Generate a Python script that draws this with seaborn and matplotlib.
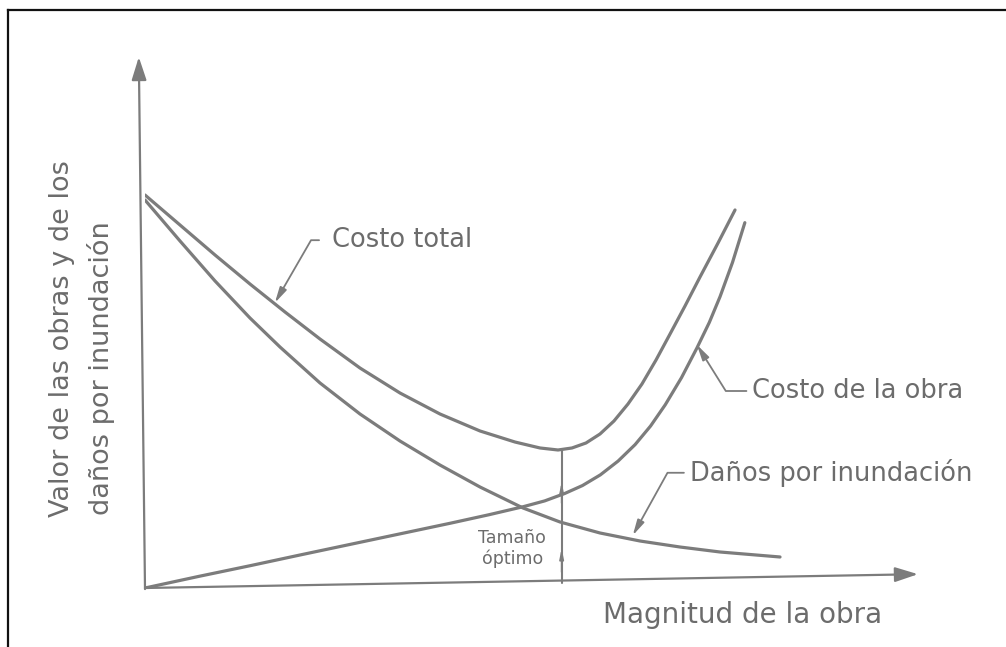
import numpy as np
import pandas as pd
import matplotlib
matplotlib.use("Agg")
import matplotlib.pyplot as plt
import seaborn as sns

# curves (x = magnitud de la obra, y = valor), arbitrary units 0-10
total_x = [0.000, 0.453, 0.906, 1.358, 1.811, 2.264, 2.781, 3.299, 3.816, 4.334, 4.787,
           5.110, 5.343, 5.524, 5.705, 5.886, 6.067, 6.248, 6.429, 6.611, 6.792, 6.986,
           7.180, 7.413, 7.633]
total_y = [7.401, 6.836, 6.271, 5.725, 5.198, 4.689, 4.143, 3.672, 3.277, 2.957, 2.749,
           2.637, 2.599, 2.637, 2.731, 2.900, 3.145, 3.465, 3.842, 4.294, 4.783, 5.311,
           5.857, 6.497, 7.119]

danos_x = [0.000, 0.453, 0.906, 1.358, 1.746, 2.264, 2.781, 3.299, 3.816, 4.334, 4.890,
           5.369, 5.886, 6.404, 6.921, 7.439, 8.215]
danos_y = [7.307, 6.535, 5.782, 5.085, 4.539, 3.861, 3.277, 2.768, 2.316, 1.902, 1.507,
           1.243, 1.036, 0.885, 0.772, 0.678, 0.584]

obra_x = [0.00, 0.70, 1.36, 2.00, 2.65, 3.30, 3.95, 4.45, 4.89, 5.17, 5.43, 5.66, 5.89, 6.12,
          6.34, 6.54, 6.73, 6.94, 7.14, 7.30, 7.44, 7.60, 7.76]
obra_y = [0.00, 0.22, 0.42, 0.62, 0.82, 1.02, 1.22, 1.38, 1.53, 1.64, 1.78, 1.93, 2.13, 2.39,
          2.70, 3.05, 3.45, 3.96, 4.52, 5.00, 5.49, 6.13, 6.88]

# optimum size: below the minimum of total cost
opt_x = 5.39
opt_top = 2.60
opt_bottom = 0.09

gray = "#7c7c7c"
text_gray = "#6c6c6c"

sns.set_style("white")
plt.rcParams["font.family"] = ["DejaVu Sans"]

fig = plt.figure(figsize=(10.06, 6.47), dpi=100)

# frame of the scanned figure (top and left edges only)
frame = fig.add_axes([0.008, -0.02, 1.0, 1.0045])
frame.set_xticks([])
frame.set_yticks([])
for side in ["right", "bottom"]:
    frame.spines[side].set_visible(False)
for side in ["top", "left"]:
    frame.spines[side].set_color("#111111")
    frame.spines[side].set_linewidth(1.6)
frame.patch.set_alpha(0)

ax = fig.add_axes([145 / 1006, (647 - 588) / 647, 773 / 1006, 531 / 647])
ax.patch.set_alpha(0)
ax.set_xlim(0, 10)
ax.set_ylim(0, 10)
ax.set_xticks([])
ax.set_yticks([])
sns.despine(ax=ax, left=True, bottom=True)

curves = pd.concat([
    pd.DataFrame({"x": total_x, "y": total_y, "serie": "Costo total"}),
    pd.DataFrame({"x": danos_x, "y": danos_y, "serie": "Daños por inundación"}),
    pd.DataFrame({"x": obra_x, "y": obra_y, "serie": "Costo de la obra"}),
])
sns.lineplot(data=curves, x="x", y="y", units="serie", estimator=None, sort=False,
             color=gray, lw=2.3, ax=ax, legend=False)

# axes with arrow heads
arrow = dict(arrowstyle="-|>,head_length=1.4,head_width=0.45", color=gray, lw=1.6,
             shrinkA=0, shrinkB=0)
ax.annotate("", xy=(-0.08, 10.0), xytext=(0.0, -0.02), arrowprops=arrow, annotation_clip=False)
ax.annotate("", xy=(10.0, 0.26), xytext=(0.0, 0.0), arrowprops=arrow, annotation_clip=False)

# optimum vertical line
ax.plot([opt_x, opt_x], [opt_top, opt_bottom], color=gray, lw=1.5)
small = dict(arrowstyle="-|>,head_length=0.6,head_width=0.12", color=gray, lw=1.2,
             shrinkA=0, shrinkB=0)
ax.annotate("", xy=(opt_x, 2.0), xytext=(opt_x, 1.6), arrowprops=small)
ax.annotate("", xy=(opt_x, 0.75), xytext=(opt_x, 0.3), arrowprops=small)
ax.text(opt_x - 0.64, 0.95, "Tamaño", ha="center", va="center", fontsize=12.5, color=text_gray)
ax.text(opt_x - 0.64, 0.56, "óptimo", ha="center", va="center", fontsize=12.5, color=text_gray)

# labels with leader lines
def leader(label, target, textpos, angle, gap):
    ax.annotate(label, xy=target, xytext=textpos, ha="left", va="center",
                fontsize=18.5, color=text_gray,
                arrowprops=dict(arrowstyle="-|>,head_length=0.5,head_width=0.12",
                                color=gray, lw=1.3, relpos=(0, 0.5),
                                shrinkA=gap, shrinkB=0,
                                connectionstyle=f"angle,angleA=0,angleB={angle},rad=0"))

leader("Costo total", (1.68, 5.37), (2.42, 6.55), 60, 7)
leader("Costo de la obra", (7.14, 4.58), (7.85, 3.71), -58, 1.5)
leader("Daños por inundación", (6.31, 0.99), (7.05, 2.17), 61, 2)

# axis titles
fig.text(743 / 1006, 1 - 615 / 647, "Magnitud de la obra", ha="center", va="center",
         fontsize=20, color=text_gray)
fig.text(62 / 1006, 1 - 517 / 647, "Valor de las obras y de los", rotation=90,
         rotation_mode="anchor", ha="left", va="center", fontsize=19.5, color=text_gray)
fig.text(101 / 1006, 1 - 515 / 647, "daños por inundación", rotation=90,
         rotation_mode="anchor", ha="left", va="center", fontsize=19.5, color=text_gray)

fig.savefig("out.png", dpi=100, facecolor="white")
